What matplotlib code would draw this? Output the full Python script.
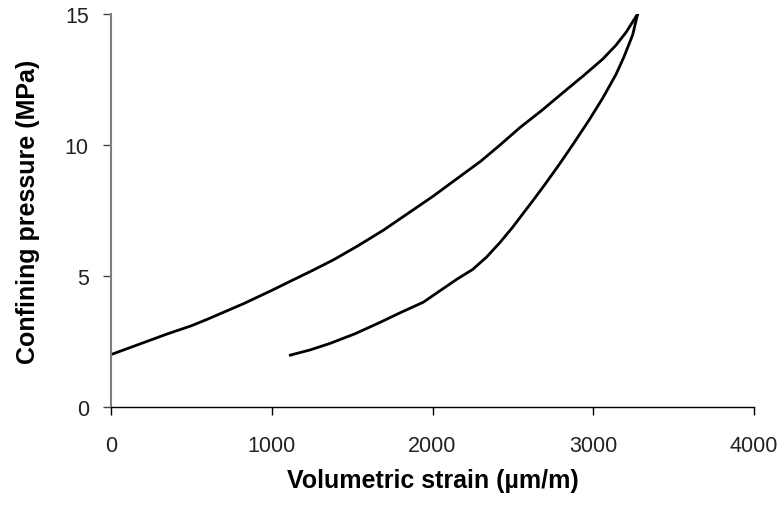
import matplotlib
matplotlib.use("Agg")
import matplotlib.pyplot as plt

# Loading branch (strain in µm/m, pressure in MPa)
load_strain = [0, 200, 351, 500, 600, 827, 1000, 1116, 1250, 1385, 1530, 1695,
               1850, 2005, 2171, 2300, 2420, 2543, 2680, 2812, 2940, 3059, 3140, 3204, 3276]
load_press = [2.0, 2.45, 2.79, 3.1, 3.35, 3.95, 4.45, 4.8, 5.2, 5.62, 6.13, 6.75,
              7.4, 8.05, 8.8, 9.38, 10.0, 10.66, 11.32, 12.0, 12.65, 13.28, 13.8, 14.3, 15.0]

# Unloading branch
unload_strain = [3276, 3245, 3190, 3142, 3060, 2977, 2880, 2791, 2700, 2625, 2543, 2501, 2420,
                 2336, 2250, 2150, 2050, 1943, 1800, 1674, 1520, 1364, 1240, 1116]
unload_press = [15.0, 14.2, 13.35, 12.7, 11.8, 10.98, 10.08, 9.28, 8.5, 7.88, 7.22, 6.88, 6.28,
                5.72, 5.25, 4.87, 4.45, 4.0, 3.6, 3.23, 2.8, 2.43, 2.18, 1.98]

x_ticks = [0, 1000, 2000, 3000, 4000]
y_ticks = [0, 5, 10, 15]

plt.rcParams['font.family'] = ['Liberation Sans', 'DejaVu Sans']

fig = plt.figure(figsize=(7.8, 5.06), dpi=100)
ax = fig.add_axes([0.1423, 0.1937, 0.8244, 0.7767])

ax.plot(load_strain, load_press, color='black', lw=2.0)
ax.plot(unload_strain, unload_press, color='black', lw=2.0)

ax.set_xlim(0, 4000)
ax.set_ylim(0, 15)
ax.set_xticks(x_ticks)
ax.set_yticks(y_ticks)

for s in ['top', 'right']:
    ax.spines[s].set_visible(False)
ax.spines['left'].set_color('#808080')
ax.spines['left'].set_linewidth(1.5)
ax.spines['bottom'].set_color('black')
ax.spines['bottom'].set_linewidth(1.0)

ax.tick_params(axis='x', direction='out', length=6, width=1, color='black', pad=14,
               labelsize=15.5, labelcolor='#222222')
ax.tick_params(axis='y', direction='out', length=6, width=1, color='#444444', pad=10,
               labelsize=15.5, labelcolor='#222222')

ax.set_xlabel('Volumetric strain (µm/m)', fontsize=18, fontweight='bold', labelpad=9)
ax.set_ylabel('Confining pressure (MPa)', fontsize=18, fontweight='bold', labelpad=18)

fig.savefig('out.png', dpi=100)
